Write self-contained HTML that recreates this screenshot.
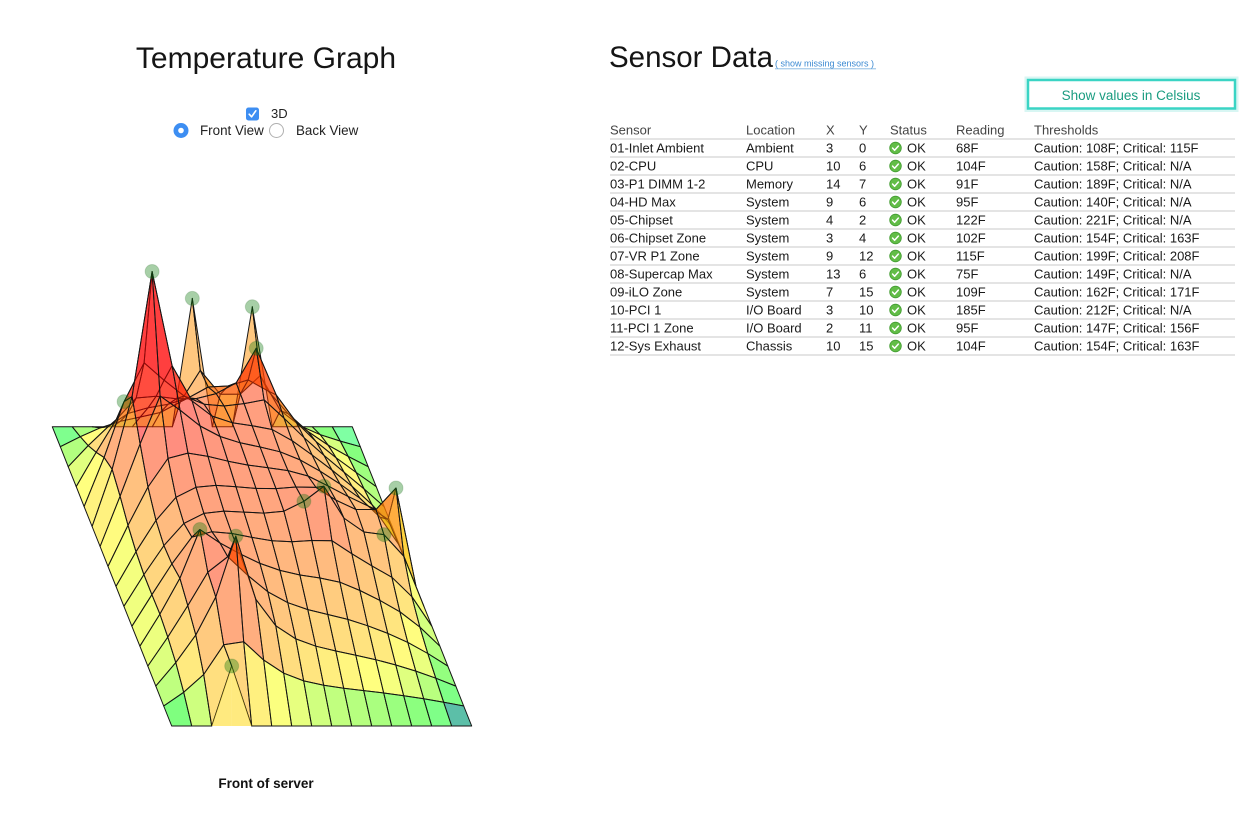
<!DOCTYPE html>
<html><head><meta charset="utf-8">
<style>
html,body{margin:0;padding:0;background:#fff;width:1258px;height:818px;overflow:hidden}
svg{display:block}
text{font-family:"Liberation Sans",Arial,sans-serif}
</style></head><body>
<svg id="s" width="1258" height="818" viewBox="0 0 1258 818" xmlns="http://www.w3.org/2000/svg">
<rect width="1258" height="818" fill="#fff"/>
<text x="266" y="68" font-size="30" text-anchor="middle" fill="#151515">Temperature Graph</text>
<rect x="246" y="107.5" width="13" height="13" rx="2.5" fill="#3d8ef2"/>
<path d="M249.2 114.2 L251.6 116.8 L255.8 110.8" stroke="#fff" stroke-width="1.6" fill="none" stroke-linecap="round" stroke-linejoin="round"/>
<text x="271" y="118" font-size="13" fill="#222">3D</text>
<circle cx="181" cy="130.5" r="7.5" fill="#3d8ef2"/>
<circle cx="181" cy="130.5" r="2.8" fill="#fff"/>
<text x="200" y="135" font-size="13.4" fill="#222">Front View</text>
<circle cx="276.5" cy="130.5" r="7" fill="#fff" stroke="#b0b0b0" stroke-width="1"/>
<text x="296" y="135" font-size="13.4" fill="#222">Back View</text>

<g id="surf" fill-opacity="0.5" stroke="#141414" stroke-width="1" stroke-linejoin="round"></g>
<g id="wall" fill-opacity="0.5"></g>
<g id="dots"></g>

<text x="266" y="788" font-size="13.5" font-weight="bold" text-anchor="middle" fill="#111">Front of server</text>

<text x="609" y="67" font-size="29.5" fill="#151515">Sensor Data</text>
<text x="775" y="66.5" font-size="9" fill="#3c8ad2">( show missing sensors )</text>
<line x1="775" y1="68.8" x2="876" y2="68.8" stroke="#7fb3e0" stroke-width="0.8"/>

<rect x="1026.5" y="78.5" width="210" height="31.5" fill="none" stroke="#3ad4c4" stroke-opacity="0.2" stroke-width="4"/>
<rect x="1028" y="80" width="207" height="28.5" fill="#fff" stroke="#3ad4c4" stroke-width="2.5"/>
<text x="1131" y="100" font-size="13.5" text-anchor="middle" fill="#1a9c80">Show values in Celsius</text>

<g font-size="13" fill="#444">
<text x="610" y="134.5">Sensor</text>
<text x="746" y="134.5">Location</text>
<text x="826" y="134.5">X</text>
<text x="859" y="134.5">Y</text>
<text x="890" y="134.5">Status</text>
<text x="956" y="134.5">Reading</text>
<text x="1034" y="134.5">Thresholds</text>
</g>
<g id="tbl" font-size="13" fill="#1a1a1a"></g>
</svg>
<script>
(function(){
var NS="http://www.w3.org/2000/svg";
function el(tag,attrs,txt){var e=document.createElementNS(NS,tag);for(var k in attrs)e.setAttribute(k,attrs[k]);if(txt!=null)e.textContent=txt;return e;}
/* table */
var rows=[
["01-Inlet Ambient","Ambient","3","0","68F","Caution: 108F; Critical: 115F"],
["02-CPU","CPU","10","6","104F","Caution: 158F; Critical: N/A"],
["03-P1 DIMM 1-2","Memory","14","7","91F","Caution: 189F; Critical: N/A"],
["04-HD Max","System","9","6","95F","Caution: 140F; Critical: N/A"],
["05-Chipset","System","4","2","122F","Caution: 221F; Critical: N/A"],
["06-Chipset Zone","System","3","4","102F","Caution: 154F; Critical: 163F"],
["07-VR P1 Zone","System","9","12","115F","Caution: 199F; Critical: 208F"],
["08-Supercap Max","System","13","6","75F","Caution: 149F; Critical: N/A"],
["09-iLO Zone","System","7","15","109F","Caution: 162F; Critical: 171F"],
["10-PCI 1","I/O Board","3","10","185F","Caution: 212F; Critical: N/A"],
["11-PCI 1 Zone","I/O Board","2","11","95F","Caution: 147F; Critical: 156F"],
["12-Sys Exhaust","Chassis","10","15","104F","Caution: 154F; Critical: 163F"]];
var T=document.getElementById('tbl');
var cols=[610,746,826,859,956,1034];
for(var i=0;i<=12;i++){T.appendChild(el('line',{x1:610,x2:1235,y1:139+18*i,y2:139+18*i,stroke:'#c9c9c9','stroke-width':1}));}
rows.forEach(function(r,i){
  var b=152.5+18*i;
  T.appendChild(el('text',{x:cols[0],y:b},r[0]));
  T.appendChild(el('text',{x:cols[1],y:b},r[1]));
  T.appendChild(el('text',{x:cols[2],y:b},r[2]));
  T.appendChild(el('text',{x:cols[3],y:b},r[3]));
  T.appendChild(el('circle',{cx:895.5,cy:b-4.5,r:5.8,fill:'#62bd47',stroke:'#3f9a2e','stroke-width':0.8}));
  T.appendChild(el('path',{d:'M892.6 '+(b-4.4)+' l2 2.2 l3.7 -4.2',stroke:'#fff','stroke-width':1.5,fill:'none','stroke-linecap':'round','stroke-linejoin':'round'}));
  T.appendChild(el('text',{x:907,y:b},'OK'));
  T.appendChild(el('text',{x:cols[4],y:b},r[4]));
  T.appendChild(el('text',{x:cols[5],y:b},r[5]));
});
/* surface */
var N=16,H=[],F=[],x,y;
for(y=0;y<N;y++){H.push([]);F.push([]);for(x=0;x<N;x++){H[y].push(0);F[y].push(x==0||y==0||x==N-1||y==N-1);}}
var S=[[3,0,68],[10,6,104],[14,7,91],[9,6,95],[4,2,122],[3,4,102],[9,12,115],[13,6,75],[7,15,109],[3,10,185],[2,11,95],[10,15,104]];
S.forEach(function(s){H[s[1]][s[0]]=(s[2]-32)*5/3;F[s[1]][s[0]]=true;});
for(var it=0;it<3000;it++){for(y=1;y<N-1;y++)for(x=1;x<N-1;x++)if(!F[y][x])H[y][x]=(H[y-1][x]+H[y+1][x]+H[y][x-1]+H[y][x+1])/4;}
function PX(x,y){return 171.7+20*x-7.96*y;}
function PY(x,y){return 726-19.95*y-H[y][x];}
function P(x,y){return PX(x,y).toFixed(1)+','+PY(x,y).toFixed(1);}
function B(x,y){return PX(x,y).toFixed(1)+','+(726-19.95*y).toFixed(1);}
var tb=[[0,150],[3,122],[8,95],[16,66],[30,50],[50,39],[75,28],[100,16],[130,6],[160,0]];
function hue(h){if(h<=0)return 150;for(var i=1;i<tb.length;i++){if(h<=tb[i][0]){var a=tb[i-1],b=tb[i];return a[1]+(b[1]-a[1])*(h-a[0])/(b[0]-a[0]);}}return 0;}
var G=document.getElementById('surf');
for(y=N-2;y>=0;y--)for(x=0;x<N-1;x++){
  var a=(H[y][x]+H[y][x+1]+H[y+1][x]+H[y+1][x+1])/4;
  var attrs={points:P(x,y)+' '+P(x+1,y)+' '+P(x+1,y+1)+' '+P(x,y+1),fill:'hsl('+hue(a).toFixed(0)+',100%,50%)'};
  if(y==0&&x==N-2){attrs.fill='#5cbfa8';attrs['fill-opacity']=1;}
  G.appendChild(el('polygon',attrs));
}
/* front wall */
var W=document.getElementById('wall');
for(x=0;x<N-1;x++){
  if(H[0][x]>0||H[0][x+1]>0){
    var aw=(H[0][x]+H[0][x+1])/2;
    W.appendChild(el('polygon',{points:P(x,0)+' '+P(x+1,0)+' '+B(x+1,0)+' '+B(x,0),fill:'hsl('+hue(aw).toFixed(0)+',100%,50%)'}));
  }
}
var D=document.getElementById('dots');
S.forEach(function(s){
  D.appendChild(el('circle',{cx:PX(s[0],s[1]).toFixed(1),cy:PY(s[0],s[1]).toFixed(1),r:7,fill:'#0a7a0a','fill-opacity':0.36,stroke:'#2a6a2a','stroke-opacity':0.2,'stroke-width':1}));
});
})();
</script>
</body></html>
